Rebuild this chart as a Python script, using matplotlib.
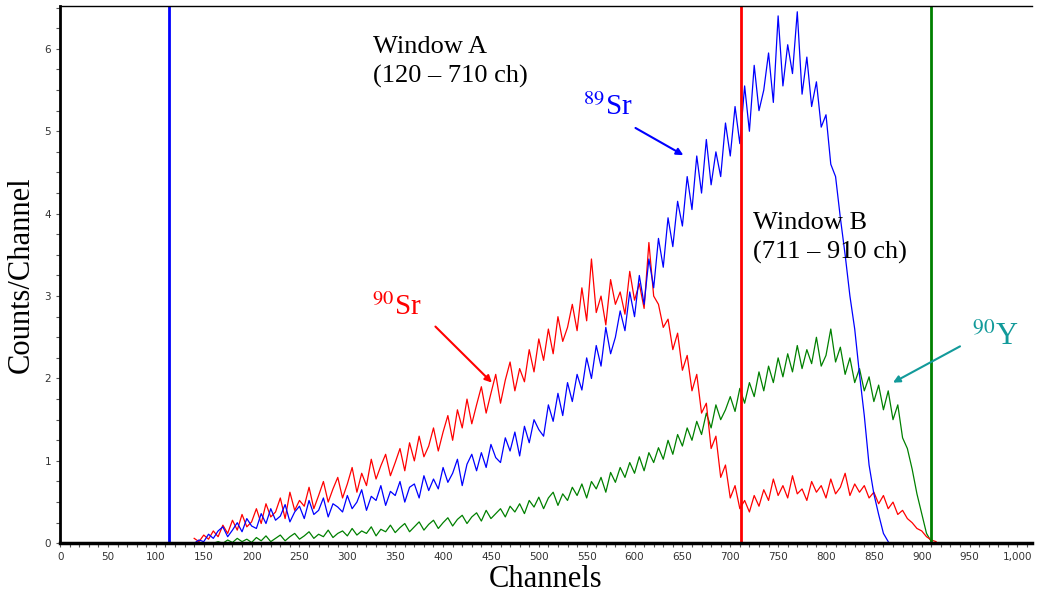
import numpy as np
import matplotlib
matplotlib.use("Agg")
import matplotlib.pyplot as plt
from matplotlib.ticker import MultipleLocator, FuncFormatter

# data (counts per channel, every 5 channels)

sr89_start = 140
sr89 = [0.00, 0.04, 0.02, 0.11, 0.06, 0.15, 0.20, 0.08, 0.16, 0.25,
        0.14, 0.30, 0.21, 0.18, 0.36, 0.24, 0.42, 0.28, 0.33, 0.47,
        0.26, 0.38, 0.45, 0.30, 0.52, 0.35, 0.40, 0.55, 0.32, 0.48,
        0.44, 0.38, 0.58, 0.42, 0.50, 0.65, 0.40, 0.57, 0.52, 0.70,
        0.46, 0.63, 0.58, 0.75, 0.50, 0.68, 0.72, 0.55, 0.82, 0.64,
        0.78, 0.66, 0.92, 0.74, 0.85, 1.02, 0.70, 0.96, 1.08, 0.88,
        1.10, 0.92, 1.20, 1.04, 0.98, 1.28, 1.12, 1.35, 1.06, 1.42,
        1.22, 1.50, 1.38, 1.30, 1.68, 1.48, 1.82, 1.55, 1.95, 1.72,
        2.05, 1.86, 2.25, 2.00, 2.40, 2.15, 2.62, 2.30, 2.50, 2.82,
        2.58, 3.05, 2.75, 3.25, 2.90, 3.45, 3.10, 3.70, 3.35, 3.95,
        3.60, 4.15, 3.85, 4.45, 4.05, 4.70, 4.25, 4.90, 4.35, 4.75,
        4.45, 5.10, 4.70, 5.30, 4.85, 5.55, 5.00, 5.80, 5.25, 5.50,
        5.95, 5.35, 6.40, 5.55, 6.05, 5.70, 6.45, 5.45, 5.90, 5.30,
        5.60, 5.05, 5.20, 4.60, 4.45, 3.95, 3.50, 3.00, 2.60, 2.05,
        1.55, 0.95, 0.60, 0.35, 0.12, 0.02]

sr90_start = 140
sr90 = [0.06, 0.02, 0.10, 0.05, 0.15, 0.08, 0.22, 0.12, 0.28, 0.16,
        0.35, 0.20, 0.26, 0.42, 0.24, 0.48, 0.32, 0.38, 0.55, 0.30,
        0.62, 0.40, 0.52, 0.45, 0.68, 0.42, 0.58, 0.75, 0.50, 0.66,
        0.80, 0.55, 0.72, 0.92, 0.62, 0.85, 0.70, 1.02, 0.78, 0.94,
        1.08, 0.82, 0.98, 1.15, 0.88, 1.22, 1.00, 1.30, 1.05, 1.18,
        1.40, 1.12, 1.35, 1.55, 1.25, 1.62, 1.40, 1.75, 1.45, 1.68,
        1.90, 1.58, 1.82, 2.05, 1.70, 1.98, 2.20, 1.85, 2.12, 1.96,
        2.35, 2.08, 2.48, 2.22, 2.60, 2.30, 2.75, 2.45, 2.62, 2.90,
        2.58, 3.10, 2.70, 3.45, 2.80, 3.00, 2.65, 3.20, 2.90, 3.05,
        2.78, 3.30, 2.95, 3.15, 2.85, 3.65, 3.00, 2.90, 2.62, 2.72,
        2.35, 2.55, 2.10, 2.28, 1.85, 2.05, 1.58, 1.70, 1.15, 1.30,
        0.80, 0.95, 0.55, 0.70, 0.42, 0.52, 0.38, 0.58, 0.45, 0.65,
        0.52, 0.78, 0.58, 0.70, 0.55, 0.82, 0.60, 0.66, 0.52, 0.75,
        0.62, 0.70, 0.55, 0.78, 0.60, 0.68, 0.85, 0.58, 0.72, 0.62,
        0.70, 0.55, 0.62, 0.48, 0.58, 0.42, 0.50, 0.35, 0.40, 0.30,
        0.25, 0.18, 0.15, 0.08, 0.04, 0.02]

y90_start = 160
y90 = [0.00, 0.02, 0.00, 0.04, 0.01, 0.06, 0.02, 0.05, 0.01, 0.07,
       0.03, 0.09, 0.02, 0.06, 0.10, 0.03, 0.08, 0.12, 0.05, 0.09,
       0.14, 0.06, 0.11, 0.08, 0.16, 0.07, 0.12, 0.15, 0.09, 0.18,
       0.10, 0.15, 0.12, 0.20, 0.09, 0.17, 0.14, 0.22, 0.13, 0.19,
       0.24, 0.14, 0.20, 0.26, 0.16, 0.23, 0.28, 0.18, 0.25, 0.31,
       0.21, 0.29, 0.34, 0.24, 0.32, 0.37, 0.27, 0.40, 0.30, 0.36,
       0.42, 0.32, 0.45, 0.38, 0.48, 0.36, 0.52, 0.44, 0.56, 0.42,
       0.55, 0.62, 0.46, 0.60, 0.52, 0.68, 0.58, 0.72, 0.55, 0.75,
       0.66, 0.80, 0.62, 0.86, 0.74, 0.92, 0.80, 0.98, 0.85, 1.05,
       0.88, 1.10, 0.98, 1.16, 1.02, 1.25, 1.08, 1.32, 1.18, 1.40,
       1.25, 1.48, 1.32, 1.58, 1.40, 1.68, 1.50, 1.62, 1.78, 1.60,
       1.88, 1.70, 1.95, 1.78, 2.08, 1.85, 2.15, 1.95, 2.25, 2.02,
       2.30, 2.08, 2.40, 2.12, 2.35, 2.18, 2.50, 2.15, 2.28, 2.60,
       2.20, 2.38, 2.05, 2.25, 1.95, 2.12, 1.85, 2.02, 1.72, 1.92,
       1.62, 1.85, 1.50, 1.68, 1.28, 1.15, 0.90, 0.60, 0.36, 0.12,
       0.02]

window_lines = [114, 711, 910]
window_colors = ["blue", "red", "green"]

# --------------

plt.rcParams["mathtext.fontset"] = "stix"
serif = "Liberation Serif"

fig = plt.figure(figsize=(10.37, 6), dpi=100)
ax = fig.add_axes([0.058, 0.0945, 0.937, 0.8955])

def chans(start, vals):
    return start + 5 * np.arange(len(vals))

ax.plot(chans(y90_start, y90), y90, color="green", lw=0.9)
ax.plot(chans(sr90_start, sr90), sr90, color="red", lw=0.9)
ax.plot(chans(sr89_start, sr89), sr89, color="blue", lw=0.9)

for xv, c in zip(window_lines, window_colors):
    ax.axvline(xv, color=c, lw=2)

ax.set_xlim(0, 1015)
ax.set_ylim(0, 6.52)

ax.xaxis.set_major_locator(MultipleLocator(50))
ax.xaxis.set_minor_locator(MultipleLocator(10))
ax.yaxis.set_major_locator(MultipleLocator(1))
ax.yaxis.set_minor_locator(MultipleLocator(0.25))
ax.xaxis.set_major_formatter(FuncFormatter(lambda v, p: f"{int(v):,}"))
ax.tick_params(which="both", direction="out", length=3, width=0.8,
               color="#555555", labelsize=7.5, labelcolor="#333333")

ax.spines["left"].set_linewidth(2)
ax.spines["bottom"].set_linewidth(2.5)
ax.spines["top"].set_linewidth(1)
ax.spines["right"].set_visible(False)

ax.set_xlabel("Channels", family=serif, fontsize=22, labelpad=2)
ax.set_ylabel("Counts/Channel", family=serif, fontsize=22, labelpad=6)

ax.text(327, 6.16, "Window A\n(120 \u2013 710 ch)", family=serif,
        fontsize=19, va="top", ha="left", linespacing=1.4)
ax.text(724, 4.02, "Window B\n(711 \u2013 910 ch)", family=serif,
        fontsize=19, va="top", ha="left", linespacing=1.4)

ax.text(546, 5.2, r"$^{89}$Sr", family=serif, fontsize=21, color="blue")
ax.text(326, 2.77, r"$^{90}$Sr", family=serif, fontsize=21, color="red")
ax.text(953, 2.41, r"$^{90}$Y", family=serif, fontsize=22, color="#129a9a")

arrow = dict(arrowstyle="-|>", lw=1.5, mutation_scale=10, shrinkA=0, shrinkB=0)
ax.annotate("", xy=(651, 4.71), xytext=(601, 5.04),
            arrowprops=dict(arrow, color="blue"))
ax.annotate("", xy=(451, 1.95), xytext=(392, 2.63),
            arrowprops=dict(arrow, color="red"))
ax.annotate("", xy=(870, 1.95), xytext=(940, 2.39),
            arrowprops=dict(arrow, color="#129a9a"))

fig.savefig("out.png", dpi=100)
